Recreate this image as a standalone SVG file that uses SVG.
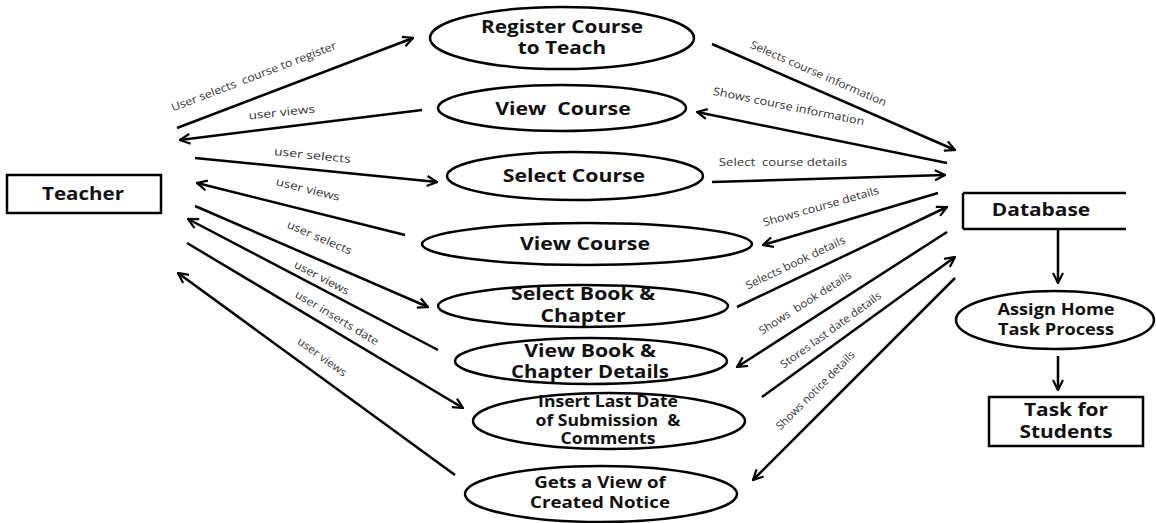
<svg xmlns="http://www.w3.org/2000/svg" width="1156" height="523" viewBox="0 0 1156 523">
  <style>
    .shape { fill: #fff; stroke: #000; stroke-width: 2.5; }
    .node { font-family: "Open Sans", "Liberation Sans", sans-serif; font-weight: bold; font-size: 17px; fill: #111; text-anchor: middle; }
    .sm { font-size: 16px; }
    .edge { stroke: #000; stroke-width: 2.5; fill: none; marker-end: url(#arrow); }
    .plain { stroke: #000; stroke-width: 2.5; fill: none; }
    .lbl { font-family: "Open Sans", "Liberation Sans", sans-serif; font-size: 11px; fill: #333; text-anchor: middle; }
  </style>
  <defs>
    <marker id="arrow" viewBox="0 0 12 12" refX="11" refY="6" markerWidth="12" markerHeight="12" markerUnits="userSpaceOnUse" orient="auto">
      <polyline points="1,1 11,6 1,11" fill="none" stroke="#000" stroke-width="2.2"/>
    </marker>
  </defs>
  <rect width="1156" height="523" fill="#fff"/>

  <!-- actor -->
  <g id="teacher">
    <rect class="shape" x="7" y="175" width="154" height="38"/>
    <text class="node" transform="translate(83,200) scale(1.21,1)">Teacher</text>
  </g>

  <!-- use cases -->
  <g id="register-course">
    <ellipse class="shape" cx="562" cy="38" rx="132" ry="31"/>
    <text class="node" transform="translate(562,33) scale(1.22,1)">Register Course</text>
    <text class="node" transform="translate(562,54) scale(1.22,1)">to Teach</text>
  </g>
  <g id="view-course-1">
    <ellipse class="shape" cx="562" cy="108" rx="124" ry="23"/>
    <text class="node" transform="translate(563,115) scale(1.25,1)" xml:space="preserve">View  Course</text>
  </g>
  <g id="select-course">
    <ellipse class="shape" cx="575" cy="176" rx="128" ry="24"/>
    <text class="node" transform="translate(574,182) scale(1.25,1)">Select Course</text>
  </g>
  <g id="view-course-2">
    <ellipse class="shape" cx="587" cy="244" rx="165" ry="21"/>
    <text class="node" transform="translate(585,250) scale(1.25,1)">View Course</text>
  </g>
  <g id="select-book">
    <ellipse class="shape" cx="583" cy="306" rx="145" ry="21"/>
    <text class="node" transform="translate(583,300) scale(1.25,1)">Select Book &amp;</text>
    <text class="node" transform="translate(583,322) scale(1.25,1)">Chapter</text>
  </g>
  <g id="view-book">
    <ellipse class="shape" cx="591" cy="361" rx="136" ry="23"/>
    <text class="node" transform="translate(590,357) scale(1.25,1)">View Book &amp;</text>
    <text class="node" transform="translate(590,378) scale(1.2,1)">Chapter Details</text>
  </g>
  <g id="insert-date">
    <ellipse class="shape" cx="609" cy="421" rx="136" ry="28"/>
    <text class="node sm" transform="translate(608,407) scale(1.1,1)">Insert Last Date</text>
    <text class="node sm" transform="translate(608,426) scale(1.1,1)" xml:space="preserve">of Submission  &amp;</text>
    <text class="node sm" transform="translate(608,444) scale(1.1,1)">Comments</text>
  </g>
  <g id="view-notice">
    <ellipse class="shape" cx="601" cy="494" rx="136" ry="28"/>
    <text class="node sm" transform="translate(600,488) scale(1.17,1)">Gets a View of</text>
    <text class="node sm" transform="translate(600,508) scale(1.17,1)">Created Notice</text>
  </g>

  <!-- data store -->
  <g id="database">
    <line class="plain" x1="963" y1="193" x2="963" y2="229" stroke-width="3.5"/>
    <line class="plain" x1="963" y1="193" x2="1126" y2="193" stroke-width="1.5"/>
    <line class="plain" x1="963" y1="229" x2="1126" y2="229" stroke-width="1.5"/>
    <text class="node" transform="translate(1041,216) scale(1.23,1)">Database</text>
  </g>
  <g id="assign-task">
    <ellipse class="shape" cx="1055" cy="320" rx="99" ry="29"/>
    <text class="node sm" transform="translate(1056,315) scale(1.14,1)">Assign Home</text>
    <text class="node sm" transform="translate(1056,335) scale(1.14,1)">Task Process</text>
  </g>
  <g id="task-students">
    <rect class="shape" x="989" y="397" width="154" height="49"/>
    <text class="node" transform="translate(1066,416) scale(1.23,1)">Task for</text>
    <text class="node" transform="translate(1066,438) scale(1.23,1)">Students</text>
  </g>

  <!-- connectors -->
  <g id="connectors">
    <line class="edge" x1="177" y1="128" x2="413" y2="38"/>
    <line class="edge" x1="422" y1="110" x2="180" y2="140"/>
    <line class="edge" x1="195" y1="158" x2="437" y2="182"/>
    <line class="edge" x1="405" y1="235" x2="197" y2="183"/>
    <line class="edge" x1="195" y1="206" x2="428" y2="307"/>
    <line class="edge" x1="438" y1="350" x2="188" y2="219"/>
    <line class="edge" x1="187" y1="243" x2="463" y2="408"/>
    <line class="edge" x1="455" y1="475" x2="178" y2="273"/>

    <line class="edge" x1="712" y1="44" x2="955" y2="150"/>
    <line class="edge" x1="947" y1="163" x2="697" y2="112"/>
    <line class="edge" x1="712" y1="182" x2="945" y2="175"/>
    <line class="edge" x1="938" y1="193" x2="763" y2="245"/>
    <line class="edge" x1="737" y1="307" x2="947" y2="207"/>
    <line class="edge" x1="947" y1="232" x2="737" y2="367"/>
    <line class="edge" x1="762" y1="397" x2="955" y2="257"/>
    <line class="edge" x1="955" y1="278" x2="753" y2="480"/>

    <line class="edge" x1="1058" y1="229" x2="1058" y2="283"/>
    <line class="edge" x1="1058" y1="356" x2="1058" y2="390"/>

    <!-- connector labels -->
    <text class="lbl" transform="translate(255,80) rotate(-21) scale(1.12,1)" xml:space="preserve">User selects  course to register</text>
    <text class="lbl" transform="translate(282,116) rotate(-6) scale(1.24,1)">user views</text>
    <text class="lbl" transform="translate(312,159) rotate(6) scale(1.28,1)">user selects</text>
    <text class="lbl" transform="translate(307,193) rotate(14) scale(1.22,1)">user views</text>
    <text class="lbl" transform="translate(318,241) rotate(23.4) scale(1.15,1)">user selects</text>
    <text class="lbl" transform="translate(320,281) rotate(27.7) scale(1.13,1)">user views</text>
    <text class="lbl" transform="translate(335,321) rotate(31) scale(1.11,1)">user inserts date</text>
    <text class="lbl" transform="translate(320,360) rotate(36) scale(1.08,1)">user views</text>

    <text class="lbl" transform="translate(817,77) rotate(23.6) scale(1.08,1)">Selects course information</text>
    <text class="lbl" transform="translate(788,110) rotate(11.5) scale(1.15,1)">Shows course information</text>
    <text class="lbl" transform="translate(783,166) scale(1.2,1)" xml:space="preserve">Select  course details</text>
    <text class="lbl" transform="translate(822,210) rotate(-15.8) scale(1.12,1)">Shows course details</text>
    <text class="lbl" transform="translate(797,266) rotate(-25.5) scale(1.08,1)">Selects book details</text>
    <text class="lbl" transform="translate(807,306) rotate(-32.7) scale(1.06,1)" xml:space="preserve">Shows  book details</text>
    <text class="lbl" transform="translate(833,333) rotate(-36) scale(1.05,1)">Stores last date details</text>
    <text class="lbl" transform="translate(818,393) rotate(-45) scale(1.02,1)">Shows notice details</text>
  </g>
</svg>
